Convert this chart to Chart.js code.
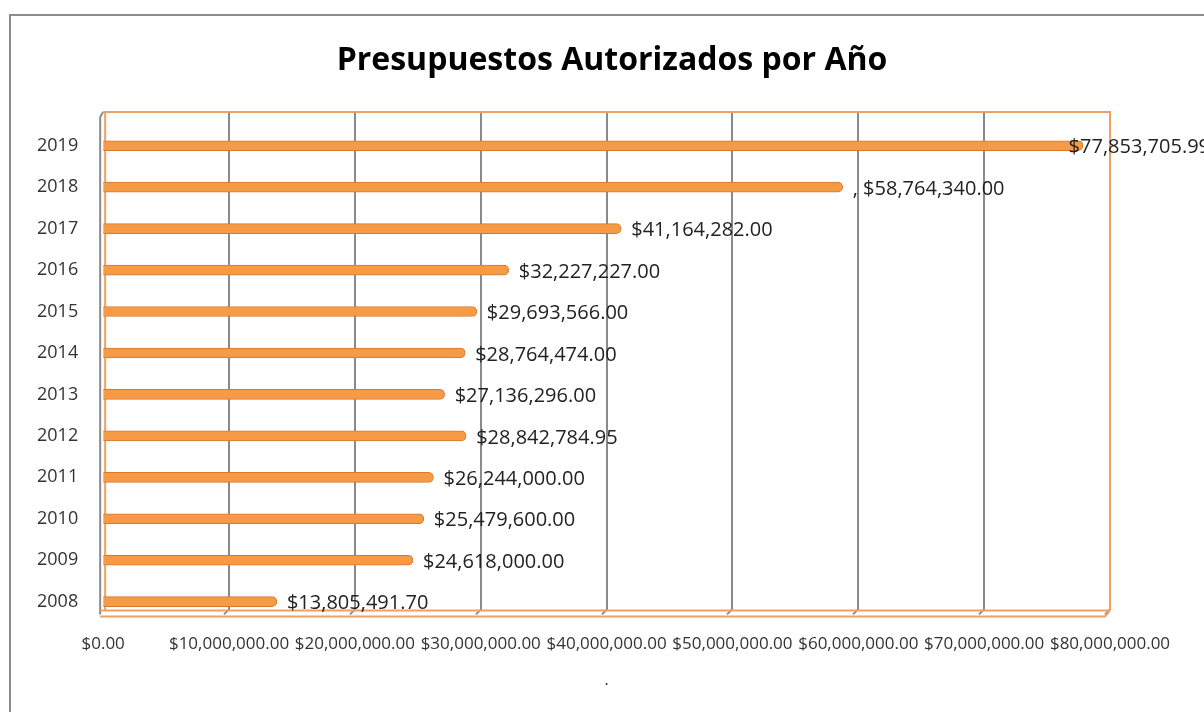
<!DOCTYPE html>
<html>
<head>
<meta charset="utf-8">
<script src="https://cdn.jsdelivr.net/npm/chart.js@4.4.0/dist/chart.umd.min.js"></script>
<style>
  html, body { margin: 0; padding: 0; background: #fff; }
  #wrap { width: 1204px; height: 712px; position: relative; }
</style>
</head>
<body>
<div id="wrap"><canvas id="myChart"></canvas></div>
<script>
// data, oldest year first (axis is reversed so 2019 ends up on top)
var years = ['2008', '2009', '2010', '2011', '2012', '2013', '2014', '2015', '2016', '2017', '2018', '2019'];
var budgets = [13805491.70, 24618000.00, 25479600.00, 26244000.00, 28842784.95, 27136296.00,
               28764474.00, 29693566.00, 32227227.00, 41164282.00, 58764340.00, 77853705.99];
// the 2018 label in the original has a stray comma in front of it
var labelPrefix = ['', '', '', '', '', '', '', '', '', '', ', ', ''];
var xTicks = [0, 10000000, 20000000, 30000000, 40000000, 50000000, 60000000, 70000000, 80000000];
var chartTitle = 'Presupuestos Autorizados por Año';

var FONT = "'Open Sans', 'Noto Sans', sans-serif";

function money(v) {
  return '$' + v.toLocaleString('en-US', { minimumFractionDigits: 2, maximumFractionDigits: 2 });
}

// outer chart box, title, 3d-ish frame, gridlines and value labels
var framePlugin = {
  id: 'frame',
  beforeDraw: function (chart) {
    var c = chart.ctx;
    c.save();
    c.fillStyle = '#fff';
    c.fillRect(0, 0, chart.width, chart.height);
    c.strokeStyle = '#8c8c8c';
    c.lineWidth = 2;
    c.beginPath();
    c.moveTo(10, chart.height + 5);
    c.lineTo(10, 15);
    c.lineTo(chart.width + 5, 15);
    c.stroke();
    // title centred on the whole box, not on the plot
    c.font = 'bold 32px ' + FONT;
    c.fillStyle = '#000';
    c.textAlign = 'center';
    c.textBaseline = 'middle';
    c.fillText(chartTitle, 612, 61);
    c.restore();
  },
  beforeDatasetsDraw: function (chart) {
    var c = chart.ctx, a = chart.chartArea, x = chart.scales.x;
    var top = a.top - 13, bot = a.bottom - 13;
    var left = x.getPixelForValue(0), right = x.getPixelForValue(80000000);
    c.save();
    // gridlines
    c.strokeStyle = '#8a8a8a';
    c.lineWidth = 2;
    xTicks.forEach(function (t) {
      if (t === 0) return;
      var px = Math.round(x.getPixelForValue(t));
      c.beginPath();
      c.moveTo(px, top);
      c.lineTo(px, bot);
      c.lineTo(px - 5, bot + 5);
      c.stroke();
    });
    // left wall
    c.beginPath();
    c.moveTo(left - 3, top + 5);
    c.lineTo(left, top);
    c.moveTo(left - 3, top + 5);
    c.lineTo(left - 3, bot + 5);
    c.stroke();
    // floor (orange double line)
    c.strokeStyle = '#f0a060';
    c.lineWidth = 2;
    c.beginPath();
    c.moveTo(left - 3, bot + 1);
    c.lineTo(right, bot + 1);
    c.moveTo(left - 3, bot + 7);
    c.lineTo(right - 5, bot + 7);
    c.lineTo(right, bot + 1);
    c.stroke();
    // top and right edge
    c.beginPath();
    c.moveTo(left, top);
    c.lineTo(right, top);
    c.lineTo(right, bot + 1);
    c.moveTo(left + 2, top);
    c.lineTo(left + 2, bot + 1);
    c.stroke();
    c.restore();
  },
  afterDatasetsDraw: function (chart) {
    var c = chart.ctx;
    var meta = chart.getDatasetMeta(0);
    c.save();
    c.font = '20px ' + FONT;
    c.fillStyle = '#222';
    c.textBaseline = 'middle';
    meta.data.forEach(function (bar, i) {
      var txt = labelPrefix[i] + money(budgets[i]);
      var w = c.measureText(txt).width;
      var px = Math.min(bar.x + 10, chart.width - w + 6);
      c.fillText(txt, px, bar.y + 2);
    });
    c.restore();
  }
};

var ctx = document.getElementById('myChart').getContext('2d');
var myChart = new Chart(ctx, {
  type: 'bar',
  data: {
    labels: years,
    datasets: [{
      data: budgets,
      backgroundColor: '#f79a46',
      borderColor: '#d8772e',
      borderWidth: 1,
      borderRadius: 5,
      borderSkipped: 'start',
      barThickness: 10
    }]
  },
  options: {
    indexAxis: 'y',
    responsive: true,
    maintainAspectRatio: false,
    animation: false,
    layout: { padding: { left: 12, right: 94, top: 125, bottom: 22 } },
    plugins: {
      legend: { display: false },
      tooltip: { enabled: false },
      title: { display: false }
    },
    scales: {
      x: {
        min: 0,
        max: 80000000,
        afterBuildTicks: function (axis) {
          axis.ticks = xTicks.map(function (v) { return { value: v }; });
        },
        grid: { display: false, drawTicks: false },
        border: { display: false },
        ticks: {
          autoSkip: false,
          maxRotation: 0,
          padding: 12,
          color: '#333',
          font: { family: FONT, size: 17 },
          callback: function (v) { return money(v); }
        },
        title: {
          display: true,
          text: '.',
          color: '#333',
          font: { family: FONT, size: 16 },
          padding: { top: 4, bottom: 0 }
        }
      },
      y: {
        reverse: true,
        grid: { display: false, drawTicks: false },
        border: { display: false },
        ticks: {
          padding: 25,
          color: '#333',
          font: { family: FONT, size: 18 }
        }
      }
    }
  },
  plugins: [framePlugin]
});
</script>
</body>
</html>
